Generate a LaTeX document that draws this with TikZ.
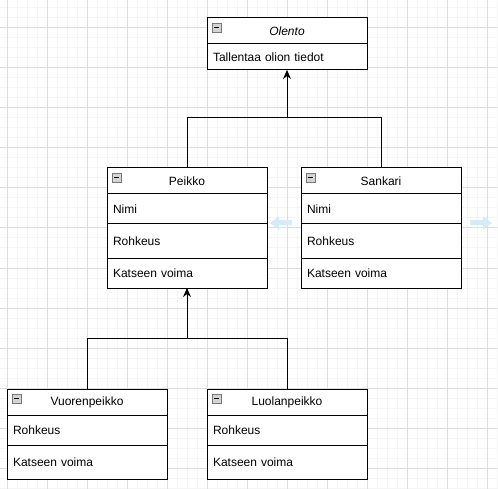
\documentclass[tikz,border=0pt]{standalone}
\usepackage{fontspec}
\setmainfont{Liberation Sans}
\usetikzlibrary{arrows.meta,calc}

\definecolor{majorgrid}{RGB}{222,222,222}
\definecolor{minorgrid}{RGB}{245,245,245}
\definecolor{iconfill}{RGB}{212,212,212}
\definecolor{icondraw}{RGB}{120,120,120}
\definecolor{hoverblue}{RGB}{214,235,250}

\tikzset{
  umlhead/.style={draw, line width=1pt, fill=white, minimum width=160pt,
    minimum height=26pt, inner sep=0pt, outer sep=0pt, anchor=north west,
    font=\fontsize{12}{14}\selectfont},
  umlfield/.style={draw, line width=1pt, fill=white, text width=148pt,
    inner xsep=6pt, inner ysep=0pt, outer sep=0pt, align=left, anchor=north,
    font=\fontsize{12}{14}\selectfont},
  inherit/.style={line width=1pt, -{Stealth[length=9pt,width=8pt]}},
  hoverarrow/.style={draw=hoverblue, line width=5pt,
    -{Triangle[length=9pt,width=13pt]}},
}

\begin{document}
\begin{tikzpicture}[x=1pt,y=-1pt]
  \useasboundingbox (0,0) rectangle (498,489);
  \fill[white] (0,0) rectangle (498,489);

  % grid
  \foreach \x in {7,17,...,497} \draw[minorgrid, line width=1pt] (\x,0) -- (\x,489);
  \foreach \y in {8,18,...,488} \draw[minorgrid, line width=1pt] (0,\y) -- (498,\y);
  \foreach \x in {7,47,...,487} \draw[majorgrid, line width=1pt] (\x,0) -- (\x,489);
  \foreach \y in {28,68,...,468} \draw[majorgrid, line width=1pt] (0,\y) -- (498,\y);

  % classes
  \node[umlhead, font=\fontsize{12}{14}\selectfont\itshape] (olento) at (207,18) {Olento};
  \node[umlfield, minimum height=26pt] (olentoA) at (olento.south) {Tallentaa olion tiedot};

  \node[umlhead] (peikko) at (107,168) {Peikko};
  \node[umlfield, minimum height=30pt] (peikkoN) at (peikko.south) {Nimi};
  \node[umlfield, minimum height=34pt] (peikkoR) at (peikkoN.south) {Rohkeus};
  \node[umlfield, minimum height=30pt] (peikkoK) at (peikkoR.south) {Katseen voima};

  \node[umlhead] (sankari) at (301,168) {Sankari};
  \node[umlfield, minimum height=30pt] (sankariN) at (sankari.south) {Nimi};
  \node[umlfield, minimum height=34pt] (sankariR) at (sankariN.south) {Rohkeus};
  \node[umlfield, minimum height=30pt] (sankariK) at (sankariR.south) {Katseen voima};

  \node[umlhead] (vuori) at (7,389) {Vuorenpeikko};
  \node[umlfield, minimum height=30pt] (vuoriR) at (vuori.south) {Rohkeus};
  \node[umlfield, minimum height=34pt] (vuoriK) at (vuoriR.south) {Katseen voima};

  \node[umlhead] (luola) at (207,389) {Luolanpeikko};
  \node[umlfield, minimum height=30pt] (luolaR) at (luola.south) {Rohkeus};
  \node[umlfield, minimum height=34pt] (luolaK) at (luolaR.south) {Katseen voima};

  \foreach \n in {olento,peikko,sankari,vuori,luola}{
    \draw[fill=iconfill, draw=icondraw, line width=0.8pt]
      ($(\n.north west)+(5,5)$) rectangle ++(9,9);
    \draw[line width=1.3pt] ($(\n.north west)+(7,9.5)$) -- ++(5,0);
  }

  % inheritance
  \coordinate (j1) at (287,118);
  \draw[inherit] (peikko.north) |- (j1) -- (olentoA.south);
  \draw[line width=1pt] (sankari.north) |- (j1);

  \coordinate (j2) at (187,338);
  \draw[inherit] (vuori.north) |- (j2) -- (peikkoK.south);
  \draw[line width=1pt] (luola.north) |- (j2);

  \draw[hoverarrow] (292,223) -- (270,223);
  \draw[hoverarrow] (470,223) -- (492,223);
\end{tikzpicture}
\end{document}
